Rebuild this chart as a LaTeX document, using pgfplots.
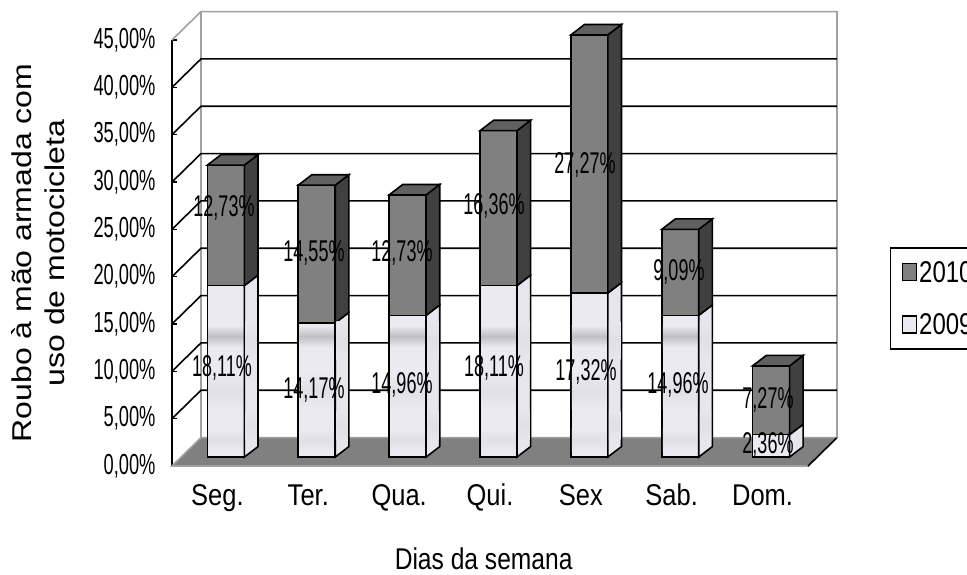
\documentclass[border=0pt]{standalone}
\usepackage{graphicx}
\usepackage{fontspec}
\setmainfont{Liberation Sans}
\usepackage{pgfplots}
\usepackage{pgfplotstable}
\pgfplotsset{compat=1.18}
\definecolor{front10}{HTML}{808080}
\definecolor{side10}{HTML}{404040}
\definecolor{top10}{HTML}{606060}
\definecolor{front09}{HTML}{EAEAF0}
\definecolor{side09}{HTML}{E6E6EC}
\definecolor{bandg}{HTML}{C0C0C4}
\definecolor{bandl}{HTML}{E0E0E6}
\definecolor{gridg}{HTML}{A0A0A0}
\pgfplotstableread{
x y09 y10
0.5 18.11 12.73
1.5 14.17 14.55
2.5 14.96 12.73
3.5 18.11 16.36
4.5 17.32 27.27
5.5 14.96 9.09
6.5 2.36 7.27
}\datatable
\newcommand\lbl[3]{\scalebox{#1}[1]{\fontsize{#2}{#2}\selectfont #3}}
\newcommand\ytk[1]{\lbl{0.63}{29}{#1}}
\newcommand\xtk[1]{\lbl{0.85}{30}{#1}}
% depth of a bar, in axis units
\def\hw{0.2035}\def\dx{0.150}\def\dy{1.10}
\pgfplotsset{barshift/.style={xshift=8.5pt,yshift=9pt},
 face/.style={barshift,draw=black,line width=1.6pt,line join=miter,no markers,sharp plot,forget plot}}
\newcommand\barside[4]{%
 \pgfmathsetmacro\xa{#1+\hw}\pgfmathsetmacro\xb{#1+\hw+\dx}%
 \pgfmathsetmacro\ya{#2+\dy}\pgfmathsetmacro\yb{#3+\dy}%
 \addplot[face,fill=#4] coordinates {(\xa,#2) (\xb,\ya) (\xb,\yb) (\xa,#3)} -- cycle;}
\newcommand\bartop[2]{%
 \pgfmathsetmacro\xa{#1-\hw}\pgfmathsetmacro\xb{#1+\hw}\pgfmathsetmacro\xc{#1-\hw+\dx}\pgfmathsetmacro\xd{#1+\hw+\dx}%
 \pgfmathsetmacro\yb{#2+\dy}%
 \addplot[face,fill=top10] coordinates {(\xa,#2) (\xb,#2) (\xd,\yb) (\xc,\yb)} -- cycle;}
\newcommand\barband[4]{% centre, low, high, colour
 \pgfmathsetmacro\xa{#1-\hw+0.012}\pgfmathsetmacro\xb{#1+\hw-0.012}%
 \addplot[barshift,no markers,sharp plot,forget plot,draw=none,top color=front09,bottom color=front09,middle color=#4] coordinates {(\xa,#2) (\xb,#2) (\xb,#3) (\xa,#3)} -- cycle;}
\newcommand\sideband[4]{% centre, low, high, colour
 \pgfmathsetmacro\xa{#1+\hw+0.012}\pgfmathsetmacro\xb{#1+\hw+\dx-0.012}%
 \pgfmathsetmacro\ya{#2+0.3*\dy}\pgfmathsetmacro\yb{#3+0.3*\dy}%
 \addplot[barshift,no markers,sharp plot,forget plot,draw=none,top color=side09,bottom color=side09,middle color=#4] coordinates {(\xa,\ya) (\xb,\ya) (\xb,\yb) (\xa,\yb)} -- cycle;}
\newcommand\gridl[1]{%
 \pgfmathsetmacro\yb{#1+3}%
 \addplot[black,line width=1.6pt,no markers,sharp plot,forget plot] coordinates {(0,#1) (0.319,\yb) (7.319,\yb)};}
\newcommand\lb[4][0.6]{\pgfmathsetmacro\yy{574-#3}\node[inner sep=0pt] at (#2pt,\yy pt) {\lbl{#1}{30}{#4}};}
\begin{document}
\begin{tikzpicture}[x=1pt,y=1pt]
\path[use as bounding box,clip] (0,0) rectangle (967,574);
\begin{axis}[
 at={(172pt,108pt)},anchor=south west,scale only axis,width=636pt,height=426pt,
 xmin=0,xmax=7,ymin=0,ymax=45,clip=false,
 axis x line*=bottom,axis y line*=left,
 axis line style={line width=1.6pt,-},
 y axis line style={line width=1.6pt},
 tick style={black,line width=1.6pt},
 major tick length=5pt,minor tick length=5pt,
 xtick={0.5,1.5,...,6.5},minor xtick={0,1,...,7},
 x tick style={draw=none},minor x tick style={draw=black,line width=1.6pt},
 xticklabels={{\xtk{Seg.}},{\xtk{Ter.}},{\xtk{Qua.}},{\xtk{Qui.}},{\xtk{Sex}},{\xtk{Sab.}},{\xtk{Dom.}}},
 ytick={0,5,...,45},
 yticklabels={{\ytk{0,00\%}},{\ytk{5,00\%}},{\ytk{10,00\%}},{\ytk{15,00\%}},{\ytk{20,00\%}},{\ytk{25,00\%}},{\ytk{30,00\%}},{\ytk{35,00\%}},{\ytk{40,00\%}},{\ytk{45,00\%}}},
 x tick label style={text height=22pt,text depth=7pt,yshift=-14pt},
 y tick label style={xshift=-13pt},
 xlabel={\lbl{0.82}{30}{Dias da semana}},
 xlabel style={at={(axis description cs:0.49,-0.217)},anchor=center},
 ylabel={\begin{tabular}{c}\scalebox{1}[0.85]{\fontsize{32}{32}\selectfont Roubo à mão armada com}\\[9pt]\scalebox{1}[0.85]{\fontsize{32}{32}\selectfont uso de motocicleta}\end{tabular}},
 ylabel style={at={(axis description cs:-0.208,0.5)},anchor=center},
 legend image code/.code={\draw[#1,line width=1.6pt] (0pt,-8pt) rectangle (14pt,9pt);},
 legend style={at={(axis cs:7.9,23.1)},anchor=north west,draw=black,line width=1.6pt,inner sep=11pt,row sep=26pt,font=\fontsize{30}{30}\selectfont,legend cell align=left},
]
% floor
\addplot[fill=front10,draw=gridg,line width=1.6pt,no markers,sharp plot,forget plot] coordinates {(0,0) (7,0) (7.319,3) (0.319,3)} -- cycle;
\addplot[black,line width=1.6pt,no markers,sharp plot,forget plot] coordinates {(7,0) (7.319,3)};
% walls and grid
\addplot[gridg,line width=1.6pt,no markers,sharp plot,forget plot] coordinates {(0,45) (0.319,48) (7.319,48) (7.319,3)};
\addplot[gridg,line width=1.6pt,no markers,sharp plot,forget plot] coordinates {(0.319,3) (0.319,48)};
\gridl{5}\gridl{10}\gridl{15}\gridl{20}\gridl{25}\gridl{30}\gridl{35}\gridl{40}
% bars
\addplot[ybar stacked,bar width=37pt,barshift,fill=front09,draw=black,line width=1.6pt,forget plot] table[x=x,y=y09] {\datatable};
\addplot[ybar stacked,bar width=37pt,barshift,fill=front10,draw=black,line width=1.6pt,forget plot] table[x=x,y=y10] {\datatable};
\pgfplotsinvokeforeach{0.5,1.5,2.5,3.5,4.5,5.5}{%
 \barband{#1}{11.6}{13.9}{bandg}\barband{#1}{0.6}{3.0}{bandl}\barband{#1}{5.0}{9.0}{bandl}}
\barside{0.5}{0}{18.11}{side09}\barside{0.5}{18.11}{30.84}{side10}\bartop{0.5}{30.84}
\barside{1.5}{0}{14.17}{side09}\barside{1.5}{14.17}{28.72}{side10}\bartop{1.5}{28.72}
\barside{2.5}{0}{14.96}{side09}\barside{2.5}{14.96}{27.69}{side10}\bartop{2.5}{27.69}
\barside{3.5}{0}{18.11}{side09}\barside{3.5}{18.11}{34.47}{side10}\bartop{3.5}{34.47}
\barside{4.5}{0}{17.32}{side09}\barside{4.5}{17.32}{44.59}{side10}\bartop{4.5}{44.59}
\barside{5.5}{0}{14.96}{side09}\barside{5.5}{14.96}{24.05}{side10}\bartop{5.5}{24.05}
\barside{6.5}{0}{2.36}{side09}\barside{6.5}{2.36}{9.63}{side10}\bartop{6.5}{9.63}
\pgfplotsinvokeforeach{0.5,1.5,2.5,3.5,4.5,5.5}{%
 \sideband{#1}{1.5}{4.5}{bandl}\sideband{#1}{10}{14}{bandl}}
% legend
\addlegendimage{fill=front10,draw=black}
\addlegendentry{\scalebox{0.8}[1]{2010}}
\addlegendimage{fill=front09,draw=black}
\addlegendentry{\scalebox{0.8}[1]{2009}}
\end{axis}
\lb{224}{208}{12,73\%}\lb{314}{253}{14,55\%}\lb{402}{253}{12,73\%}\lb{494}{206}{16,36\%}\lb{585}{165}{27,27\%}\lb{679}{272}{9,09\%}
\lb{222}{368}{18,11\%}\lb{314}{390}{14,17\%}\lb{402}{385}{14,96\%}\lb{494}{368}{18,11\%}\lb{586}{372}{17,32\%}\lb{678}{385}{14,96\%}
\lb{768}{400}{7,27\%}\lb{768}{445}{2,36\%}
\end{tikzpicture}
\end{document}
